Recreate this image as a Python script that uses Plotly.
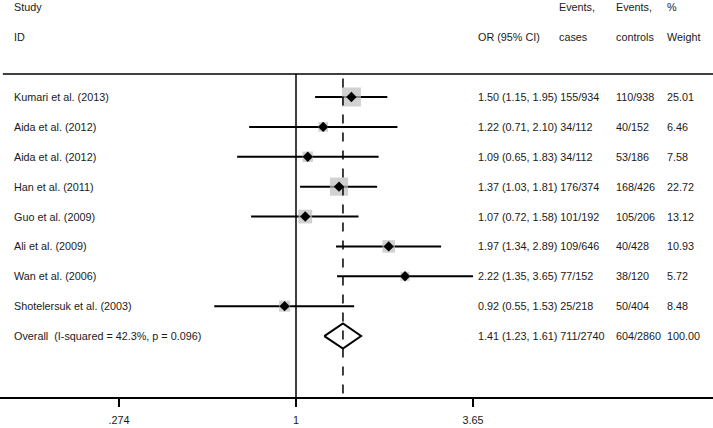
import plotly.graph_objects as go
import math

studies = ["Kumari et al. (2013)", "Aida et al. (2012)", "Aida et al. (2012)", "Han et al. (2011)",
           "Guo et al. (2009)", "Ali et al. (2009)", "Wan et al. (2006)", "Shotelersuk et al. (2003)"]
or_vals = [1.50, 1.22, 1.09, 1.37, 1.07, 1.97, 2.22, 0.92]
ci_low = [1.15, 0.71, 0.65, 1.03, 0.72, 1.34, 1.35, 0.55]
ci_high = [1.95, 2.10, 1.83, 1.81, 1.58, 2.89, 3.65, 1.53]
cases = ["155/934", "34/112", "34/112", "176/374", "101/192", "109/646", "77/152", "25/218"]
controls = ["110/938", "40/152", "53/186", "168/426", "105/206", "40/428", "38/120", "50/404"]
weights = [25.01, 6.46, 7.58, 22.72, 13.12, 10.93, 5.72, 8.48]

overall_label = "Overall  (I-squared = 42.3%, p = 0.096)"
overall_or, overall_low, overall_high = 1.41, 1.23, 1.61
overall_cases, overall_controls, overall_weight = "711/2740", "604/2860", "100.00"

tick_vals = [0.274, 1, 3.65]
tick_text = [".274", "1", "3.65"]

rows = list(range(1, len(studies) + 1))
overall_row = len(studies) + 1

W, H = 713, 428
FONT = "Liberation Sans, Arial, sans-serif"
FS = 10.8
fig = go.Figure()

# CI lines
for r, lo, hi in zip(rows, ci_low, ci_high):
    fig.add_trace(go.Scatter(x=[lo, hi], y=[r, r], mode="lines",
                             line=dict(color="black", width=2), showlegend=False, hoverinfo="skip"))

# weight boxes
fig.add_trace(go.Scatter(x=or_vals, y=rows, mode="markers",
                         marker=dict(symbol="square", color="#BDBDBD",
                                     size=[3.8 * math.sqrt(w) for w in weights], line=dict(width=0)),
                         showlegend=False, hoverinfo="skip"))
# point estimates
fig.add_trace(go.Scatter(x=or_vals, y=rows, mode="markers",
                         marker=dict(symbol="diamond", color="black", size=8),
                         showlegend=False, hoverinfo="skip"))

# overall diamond
dh = 0.42
fig.add_trace(go.Scatter(x=[overall_low, overall_or, overall_high, overall_or, overall_low],
                         y=[overall_row, overall_row - dh, overall_row, overall_row + dh, overall_row],
                         mode="lines", line=dict(color="black", width=2),
                         showlegend=False, hoverinfo="skip"))

y_top_line = 0.23
y_bottom = 11.04
y_top = -2.247

# top rule
fig.add_shape(type="line", xref="paper", yref="y", x0=0.004, x1=1, y0=y_top_line, y1=y_top_line,
              line=dict(color="black", width=1.5))
# null line
fig.add_shape(type="line", xref="x", yref="y", x0=1, x1=1, y0=y_top_line, y1=y_bottom,
              line=dict(color="black", width=1.5))
# overall dashed line
fig.add_shape(type="line", xref="x", yref="y", x0=overall_or, x1=overall_or, y0=y_top_line + 0.15, y1=y_bottom,
              line=dict(color="black", width=1.5, dash="dash"))

def ann(text, xpx, row):
    fig.add_annotation(text=text, x=(xpx - 3) / W, xref="paper", y=row, yref="y",
                       xanchor="left", yanchor="middle", showarrow=False,
                       font=dict(family=FONT, size=FS, color="#1a1a1a"))

# headers
ann("Study", 15, -2)
ann("ID", 15, -1)
ann("OR (95% CI)", 479, -1)
ann("Events,", 560, -2)
ann("cases", 560, -1)
ann("Events,", 617, -2)
ann("controls", 617, -1)
ann("%", 668, -2)
ann("Weight", 668, -1)

for r, s, o, lo, hi, ca, co, w in zip(rows, studies, or_vals, ci_low, ci_high, cases, controls, weights):
    ann(s, 15, r)
    ann(f"{o:.2f} ({lo:.2f}, {hi:.2f}) {ca}", 479, r)
    ann(co, 617, r)
    ann(f"{w:.2f}", 668, r)

ann(overall_label, 15, overall_row)
ann(f"{overall_or:.2f} ({overall_low:.2f}, {overall_high:.2f}) {overall_cases}", 479, overall_row)
ann(overall_controls, 617, overall_row)
ann(overall_weight, 668, overall_row)

fig.update_layout(
    width=W, height=H, margin=dict(l=0, r=0, t=0, b=31),
    plot_bgcolor="white", paper_bgcolor="white",
    xaxis=dict(type="log", range=[-0.9403, 1.3247], showgrid=False, zeroline=False,
               showline=True, linecolor="black", linewidth=1.5,
               ticks="outside", ticklen=8, tickwidth=1.5, tickcolor="black",
               tickvals=tick_vals, ticktext=tick_text, ticklabelstandoff=4,
               tickfont=dict(family=FONT, size=FS, color="#1a1a1a")),
    yaxis=dict(range=[y_bottom, y_top], visible=False, showgrid=False, zeroline=False),
)

fig.write_html("out.html", config={"displayModeBar": False},
               post_script="document.body.style.margin='0';document.body.style.overflow='hidden';")
